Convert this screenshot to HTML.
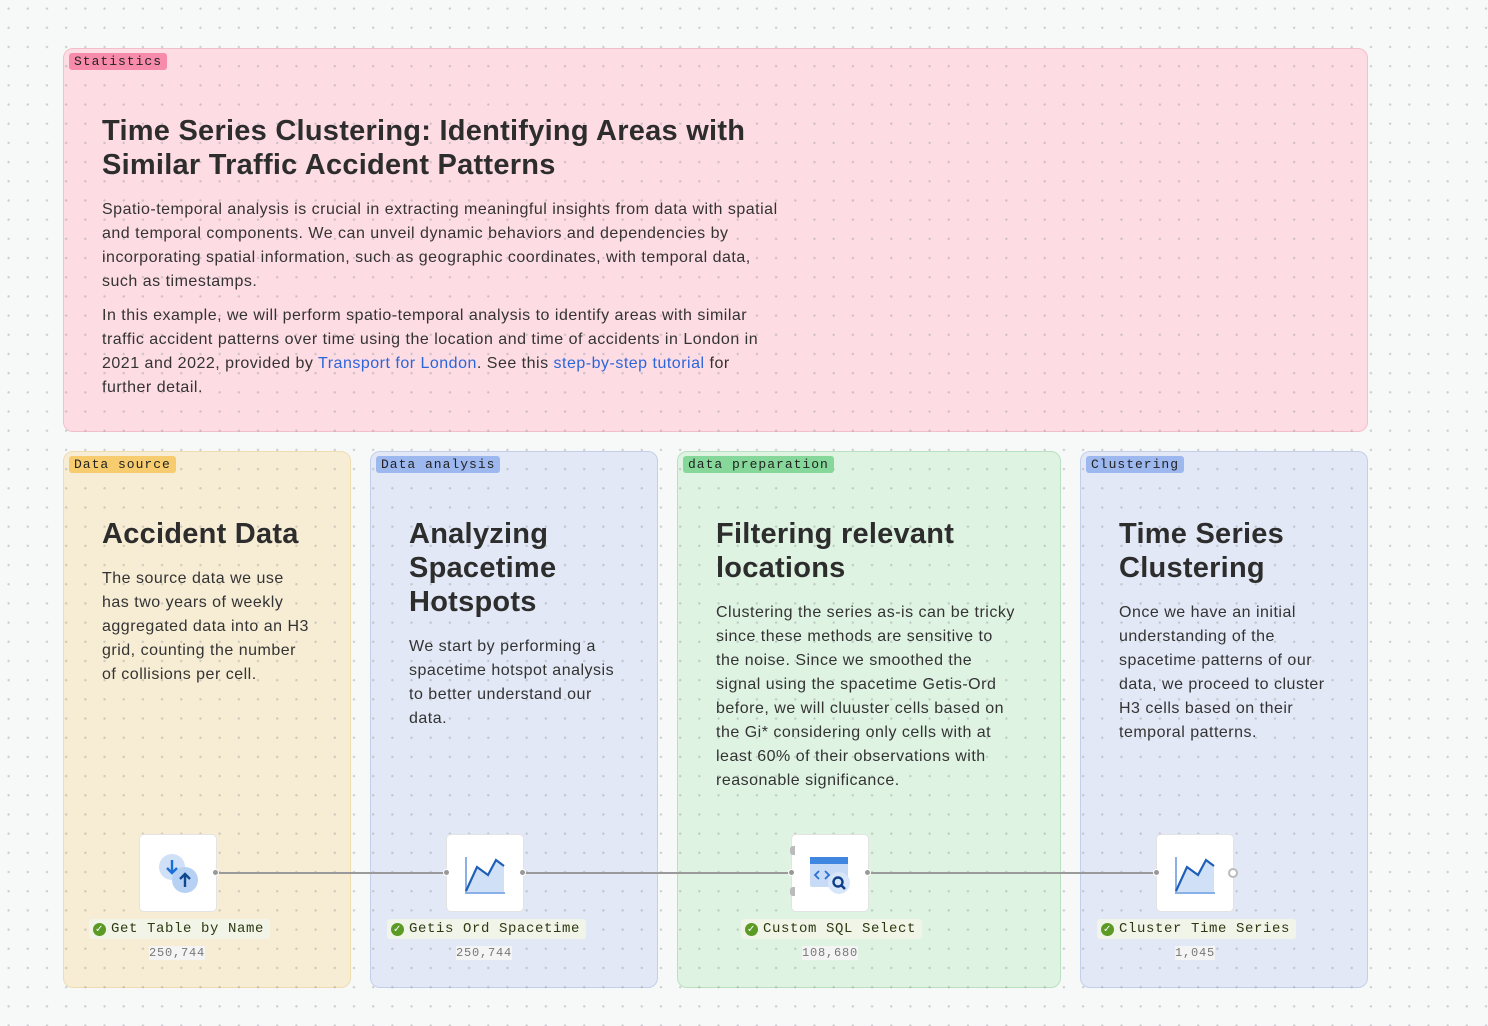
<!DOCTYPE html>
<html><head><meta charset="utf-8"><style>
*{margin:0;padding:0;box-sizing:border-box}
body{width:1488px;height:1026px;overflow:hidden;background:#f7f8f8;font-family:"Liberation Sans",sans-serif;color:#2b2b2b;position:relative}
.grid{position:absolute;left:0;top:0;width:1488px;height:1026px;background-image:radial-gradient(circle,rgba(150,155,160,.45) 1px,transparent 1.3px);background-size:19.2px 19.2px;background-position:-1px -1px;pointer-events:none}
.p{position:absolute;border-radius:10px;border:1px solid}
.tag{position:absolute;left:5px;top:5px;font-family:"Liberation Mono",monospace;font-size:13px;padding:1px 5px;border-radius:3px;color:#222;letter-spacing:1px}
h1{position:absolute;font-size:29px;font-weight:600;line-height:34px;color:#2d2d2d;letter-spacing:.25px;white-space:nowrap}
.t{position:absolute;font-size:16px;line-height:24px;color:#333;letter-spacing:.5px;white-space:nowrap}
.t p{margin-bottom:10px}
a{color:#2b66d9;text-decoration:none}
.n{position:absolute;width:76px;height:76px;background:#fff;border-radius:4px;box-shadow:0 0 0 1px #e3e3e3}
.lbl{position:absolute;font-family:"Liberation Mono",monospace;font-size:14px;color:#2d3a12;background:rgba(240,244,232,.95);padding:2px 6px 2px 22px;border-radius:3px;letter-spacing:.6px}
.lbl:before{content:"✓";position:absolute;left:4px;top:4px;width:13px;height:13px;border-radius:50%;background:#5a9a25;color:#fff;font-size:10px;line-height:13px;text-align:center;font-family:"DejaVu Sans",sans-serif;font-weight:bold}
.c{position:absolute;font-family:"Liberation Mono",monospace;font-size:12px;color:#777;letter-spacing:.8px;background:#f4f4f4}
.dot{position:absolute;width:7px;height:7px;border-radius:50%;background:#999;border:1px solid #fff}
</style></head><body>
<div class="p" style="left:63px;top:48px;width:1305px;height:384px;background:#fddce4;border-color:#f4bfcc"></div>
<div class="p" style="left:63px;top:451px;width:288px;height:537px;background:#f7edd5;border-color:#efdcb0"></div>
<div class="p" style="left:370px;top:451px;width:288px;height:537px;background:#e2e8f5;border-color:#c3cfe9"></div>
<div class="p" style="left:677px;top:451px;width:384px;height:537px;background:#def3e2;border-color:#b9e0c1"></div>
<div class="p" style="left:1080px;top:451px;width:288px;height:537px;background:#e2e8f5;border-color:#c3cfe9"></div>
<div class="grid"></div>
<span class="tag" style="left:69px;top:53px;background:#f78bac">Statistics</span>
<span class="tag" style="left:69px;top:456px;background:#f6cc6e">Data source</span>
<span class="tag" style="left:376px;top:456px;background:#9db7ef">Data analysis</span>
<span class="tag" style="left:683px;top:456px;background:#86d89a">data preparation</span>
<span class="tag" style="left:1086px;top:456px;background:#9db7ef">Clustering</span>

<h1 style="left:102px;top:114px">Time Series Clustering: Identifying Areas with<br>Similar Traffic Accident Patterns</h1>
<div class="t" style="left:102px;top:198px"><p>Spatio-temporal analysis is crucial in extracting meaningful insights from data with spatial<br>and temporal components. We can unveil dynamic behaviors and dependencies by<br>incorporating spatial information, such as geographic coordinates, with temporal data,<br>such as timestamps.</p><p>In this example, we will perform spatio-temporal analysis to identify areas with similar<br>traffic accident patterns over time using the location and time of accidents in London in<br>2021 and 2022, provided by <a>Transport for London</a>. See this <a>step-by-step tutorial</a> for<br>further detail.</p></div>

<h1 style="left:102px;top:517px">Accident Data</h1>
<div class="t" style="left:102px;top:567px">The source data we use<br>has two years of weekly<br>aggregated data into an H3<br>grid, counting the number<br>of collisions per cell.</div>
<h1 style="left:409px;top:517px">Analyzing<br>Spacetime<br>Hotspots</h1>
<div class="t" style="left:409px;top:635px">We start by performing a<br>spacetime hotspot analysis<br>to better understand our<br>data.</div>
<h1 style="left:716px;top:517px">Filtering relevant<br>locations</h1>
<div class="t" style="left:716px;top:601px">Clustering the series as-is can be tricky<br>since these methods are sensitive to<br>the noise. Since we smoothed the<br>signal using the spacetime Getis-Ord<br>before, we will cluuster cells based on<br>the Gi* considering only cells with at<br>least 60% of their observations with<br>reasonable significance.</div>
<h1 style="left:1119px;top:517px">Time Series<br>Clustering</h1>
<div class="t" style="left:1119px;top:601px">Once we have an initial<br>understanding of the<br>spacetime patterns of our<br>data, we proceed to cluster<br>H3 cells based on their<br>temporal patterns.</div>

<svg style="position:absolute;left:0;top:0" width="1488" height="1026">
<g stroke="#9a9a9a" stroke-width="2"><line x1="216" y1="873" x2="447" y2="873"/><line x1="523" y1="873" x2="792" y2="873"/><line x1="868" y1="873" x2="1157" y2="873"/></g>
</svg>
<div class="n" style="left:140px;top:835px"><svg width="76" height="76"><circle cx="32" cy="32" r="13" fill="#cfe0f7"/><circle cx="45" cy="45" r="13" fill="#b7d1f4"/><path d="M32 25v12M27 33l5 5 5-5" stroke="#1a6fd8" stroke-width="2.4" fill="none"/><path d="M45 52v-12M40 44l5-5 5 5" stroke="#11478f" stroke-width="2.4" fill="none"/></svg></div>
<div class="n" style="left:447px;top:835px"><svg width="76" height="76"><path d="M19 56L30 32 41 40 49 25 57 31V58H19Z" fill="#cfe0f7"/><path d="M19 22V58H58" stroke="#8ab0e8" stroke-width="2" fill="none"/><path d="M19 56L30 32 41 40 49 25 57 31" stroke="#1f5fb8" stroke-width="2.2" fill="none"/></svg></div>
<div class="n" style="left:792px;top:835px"><svg width="76" height="76"><rect x="18" y="22" width="38" height="30" rx="2" fill="#c7dbf6"/><rect x="18" y="22" width="38" height="7" fill="#3f86e0"/><path d="M27 36l-4 4 4 4M33 36l4 4-4 4" stroke="#2b6fd0" stroke-width="1.8" fill="none"/><circle cx="47" cy="48" r="11" fill="#d8e6fa"/><circle cx="46" cy="47" r="4.5" stroke="#0f3f86" stroke-width="2.4" fill="none"/><path d="M49 50l4 4" stroke="#0f3f86" stroke-width="2.6"/></svg></div>
<div class="n" style="left:1157px;top:835px"><svg width="76" height="76"><path d="M19 56L30 32 41 40 49 25 57 31V58H19Z" fill="#cfe0f7"/><path d="M19 22V58H58" stroke="#8ab0e8" stroke-width="2" fill="none"/><path d="M19 56L30 32 41 40 49 25 57 31" stroke="#1f5fb8" stroke-width="2.2" fill="none"/></svg></div>
<div class="dot" style="left:212px;top:869px"></div>
<div class="dot" style="left:443px;top:869px"></div><div class="dot" style="left:519px;top:869px"></div>
<div class="dot" style="left:788px;top:869px"></div><div class="dot" style="left:864px;top:869px"></div>
<div class="dot" style="left:1153px;top:869px"></div>
<div style="position:absolute;left:1228px;top:868px;width:10px;height:10px;border-radius:50%;border:2px solid #bbb;background:#fff"></div>
<div style="position:absolute;left:790px;top:846px;width:5px;height:9px;border-radius:3px 0 0 3px;background:#bbb"></div>
<div style="position:absolute;left:790px;top:887px;width:5px;height:9px;border-radius:3px 0 0 3px;background:#bbb"></div>

<div class="lbl" style="left:89px;top:919px">Get Table by Name</div><div class="c" style="left:149px;top:946px">250,744</div>
<div class="lbl" style="left:387px;top:919px">Getis Ord Spacetime</div><div class="c" style="left:456px;top:946px">250,744</div>
<div class="lbl" style="left:741px;top:919px">Custom SQL Select</div><div class="c" style="left:802px;top:946px">108,680</div>
<div class="lbl" style="left:1097px;top:919px">Cluster Time Series</div><div class="c" style="left:1175px;top:946px">1,045</div>
</body></html>
